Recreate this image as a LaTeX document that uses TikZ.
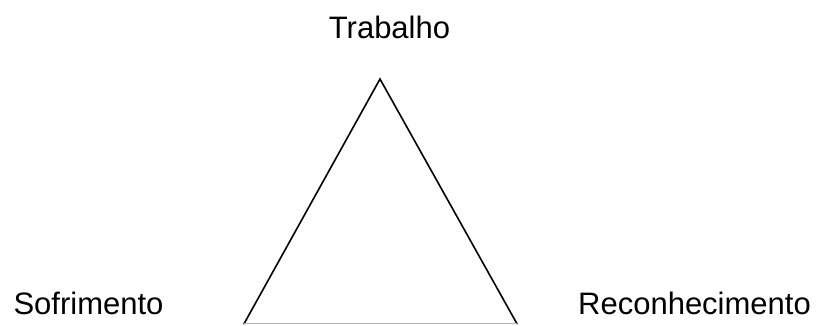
\documentclass[tikz,border=0pt]{standalone}
\usepackage{fontspec}
\setmainfont{Liberation Sans}
\begin{document}
\begin{tikzpicture}[x=1pt,y=1pt,
  lbl/.style={anchor=base,inner sep=0pt,font=\fontsize{31}{36}\selectfont},
  side/.style={draw=black,line width=1.6pt,line cap=round,line join=miter}]
\useasboundingbox (0,0) rectangle (817,325);
\coordinate (top) at (380,246);
\coordinate (left) at (244,1.2);
\coordinate (right) at (517,1.2);
\node[lbl] (trab) at (389.5,287) {Trabalho};
\node[lbl] (sofr) at (88.5,11) {Sofrimento};
\node[lbl] (reco) at (694.5,11) {Reconhecimento};
\draw[side] (left) -- (top) -- (right);
\draw[draw=black!30,line width=1pt] (left) -- (right);
\end{tikzpicture}
\end{document}
